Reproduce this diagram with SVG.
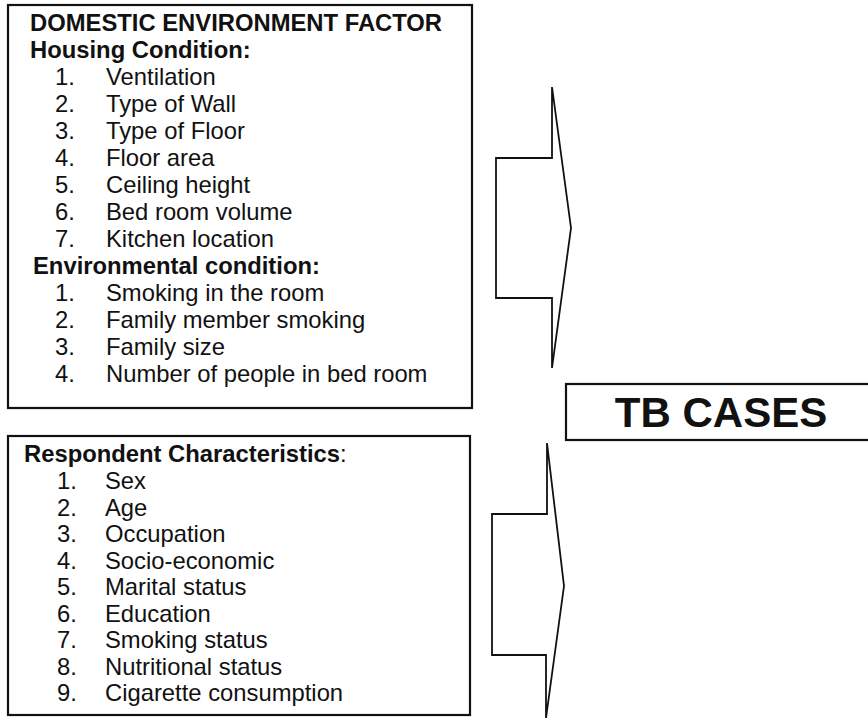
<svg xmlns="http://www.w3.org/2000/svg" width="868" height="720" viewBox="0 0 868 720">
<style>
text{font-family:"Liberation Sans",Arial,Helvetica,sans-serif;font-size:23.8px;fill:#111}
.b{font-weight:bold}
.box{fill:none;stroke:#111;stroke-width:2.2}
.arr{fill:none;stroke:#111;stroke-width:1.8;stroke-linejoin:miter}
.tb{font-size:42px;font-weight:bold}
</style>
<rect width="868" height="720" fill="#fff"/>
<g id="domestic">
<rect class="box" x="8" y="5" width="464" height="403"/>
<text class="b" x="30" y="31">DOMESTIC ENVIRONMENT FACTOR</text>
<text class="b" x="30" y="58">Housing Condition:</text>
<text x="55" y="85">1.</text><text x="106" y="85">Ventilation</text>
<text x="55" y="112">2.</text><text x="106" y="112">Type of Wall</text>
<text x="55" y="139">3.</text><text x="106" y="139">Type of Floor</text>
<text x="55" y="166">4.</text><text x="106" y="166">Floor area</text>
<text x="55" y="193">5.</text><text x="106" y="193">Ceiling height</text>
<text x="55" y="220">6.</text><text x="106" y="220">Bed room volume</text>
<text x="55" y="247">7.</text><text x="106" y="247">Kitchen location</text>
<text class="b" x="33" y="274">Environmental condition:</text>
<text x="55" y="301">1.</text><text x="106" y="301">Smoking in the room</text>
<text x="55" y="328">2.</text><text x="106" y="328">Family member smoking</text>
<text x="55" y="355">3.</text><text x="106" y="355">Family size</text>
<text x="55" y="382">4.</text><text x="106" y="382">Number of people in bed room</text>
</g>
<g id="respondent">
<rect class="box" x="8" y="436" width="462" height="279"/>
<text x="24" y="462"><tspan class="b">Respondent Characteristics</tspan>:</text>
<text x="57" y="489">1.</text><text x="105" y="489">Sex</text>
<text x="57" y="515.5">2.</text><text x="105" y="515.5">Age</text>
<text x="57" y="542">3.</text><text x="105" y="542">Occupation</text>
<text x="57" y="568.5">4.</text><text x="105" y="568.5">Socio-economic</text>
<text x="57" y="595">5.</text><text x="105" y="595">Marital status</text>
<text x="57" y="621.5">6.</text><text x="105" y="621.5">Education</text>
<text x="57" y="648">7.</text><text x="105" y="648">Smoking status</text>
<text x="57" y="674.5">8.</text><text x="105" y="674.5">Nutritional status</text>
<text x="57" y="701">9.</text><text x="105" y="701">Cigarette consumption</text>
</g>
<g id="tbcases">
<rect class="box" x="566" y="384" width="306" height="56"/>
<text class="tb" x="721" y="427" text-anchor="middle">TB CASES</text>
</g>
<g id="connectors">
<polygon class="arr" points="552,87 571,228 552,368 552,298 496,298 496,158 552,158"/>
<polygon class="arr" points="547,443 564,586 546,718 546,655 492,655 492,514 547,514"/>
</g>
</svg>
